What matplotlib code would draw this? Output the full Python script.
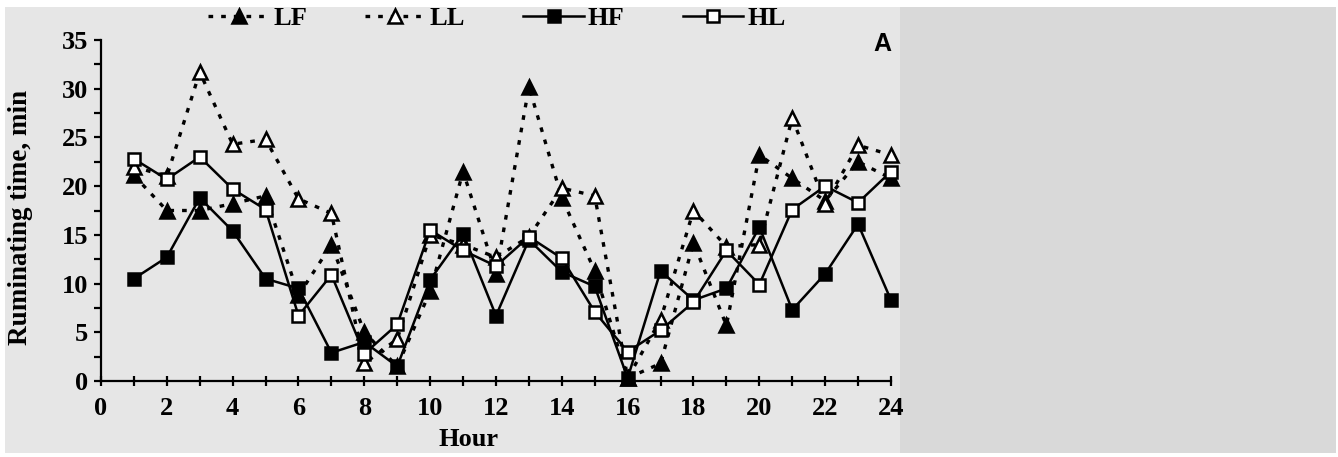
import matplotlib
matplotlib.use("Agg")
import matplotlib.pyplot as plt
from matplotlib.patches import Rectangle
from matplotlib.ticker import MultipleLocator

# Hours 1..24
hours = list(range(1, 25))

# Ruminating time (min) per hour
lf = [21.1, 17.5, 17.5, 18.2, 19.0, 8.8, 14.0, 5.0, 1.5, 9.2, 21.5, 11.0,
      30.2, 18.8, 11.3, 0.3, 1.8, 14.2, 5.7, 23.2, 20.8, 18.5, 22.5, 20.8]
ll = [22.0, 21.0, 31.7, 24.3, 24.8, 18.7, 17.2, 1.8, 4.3, 15.0, 14.0, 12.7,
      14.8, 19.8, 19.0, 0.3, 6.3, 17.5, 13.8, 14.0, 27.0, 18.2, 24.2, 23.2]
hf = [10.5, 12.7, 18.8, 15.4, 10.5, 9.5, 2.9, 4.0, 1.5, 10.4, 15.1, 6.7,
      14.5, 11.2, 9.7, 0.3, 11.3, 8.3, 9.5, 15.8, 7.3, 11.0, 16.1, 8.3]
hl = [22.8, 20.7, 23.0, 19.7, 17.6, 6.7, 10.9, 2.8, 5.8, 15.5, 13.4, 11.8,
      14.8, 12.6, 7.1, 3.0, 5.2, 8.1, 13.4, 9.9, 17.6, 20.0, 18.3, 21.5]

series_names = ["LF", "LL", "HF", "HL"]

serif = "Liberation Serif"

fig = plt.figure(figsize=(13.38, 4.57), dpi=100)
fig.patch.set_facecolor("white")

# background panels like the scanned page
fig.patches.append(Rectangle((5 / 1338, 4 / 457), 895 / 1338, 446 / 457,
                             transform=fig.transFigure, facecolor="#e6e6e6",
                             edgecolor="none", zorder=-10))
fig.patches.append(Rectangle((900 / 1338, 4 / 457), 436 / 1338, 446 / 457,
                             transform=fig.transFigure, facecolor="#d9d9d9",
                             edgecolor="none", zorder=-10))
# white strip at the very top (the scan cuts the legend there)
fig.patches.append(Rectangle((0, 1 - 7 / 457), 1, 7 / 457,
                             transform=fig.transFigure, facecolor="white",
                             edgecolor="none", zorder=20))

ax = fig.add_axes([101 / 1338, 1 - 381 / 457, 790 / 1338, 341 / 457])
ax.set_facecolor("none")

dots = (0, (1.4, 2.4))
common = dict(color="black", markersize=9.5, markeredgewidth=1.8, clip_on=False)

ax.plot(hours, lf, linestyle=dots, linewidth=2.4, marker="^",
        markerfacecolor="black", label=series_names[0], **common)
ax.plot(hours, ll, linestyle=dots, linewidth=2.4, marker="^",
        markerfacecolor="white", label=series_names[1], **common)
ax.plot(hours, hf, linestyle="-", linewidth=1.8, marker="s",
        markerfacecolor="black", markersize=8.5, markeredgewidth=1.8,
        color="black", clip_on=False, label=series_names[2])
ax.plot(hours, hl, linestyle="-", linewidth=1.8, marker="s",
        markerfacecolor="white", markersize=8.5, markeredgewidth=1.8,
        color="black", clip_on=False, label=series_names[3])

ax.set_xlim(0, 24)
ax.set_ylim(0, 35)
ax.xaxis.set_major_locator(MultipleLocator(2))
ax.xaxis.set_minor_locator(MultipleLocator(1))
ax.yaxis.set_major_locator(MultipleLocator(5))
ax.yaxis.set_minor_locator(MultipleLocator(2.5))

for s in ["top", "right"]:
    ax.spines[s].set_visible(False)
for s in ["left", "bottom"]:
    ax.spines[s].set_linewidth(1.6)

ax.tick_params(axis="x", which="both", direction="inout", length=7, width=1.6,
               pad=8)
ax.tick_params(axis="y", which="both", direction="out", length=5, width=1.6,
               pad=4)
for lbl in ax.get_xticklabels() + ax.get_yticklabels():
    lbl.set_fontfamily(serif)
    lbl.set_fontweight("bold")
    lbl.set_fontsize(19)

ax.set_xlabel("Hour", fontfamily=serif, fontweight="bold", fontsize=19)
ax.xaxis.set_label_coords(0.465, -0.138)
ax.set_ylabel("Ruminating time, min", fontfamily=serif, fontweight="bold",
              fontsize=19.5)
ax.yaxis.set_label_coords(-0.086, 0.48)

ax.text(23.75, 34.6, "A", fontfamily="Liberation Sans", fontweight="bold",
        fontsize=18, ha="center", va="center")

fig.legend(loc="center", bbox_to_anchor=(497 / 1338, 1 - 18 / 457), ncol=4,
           frameon=False, handlelength=2.3, handletextpad=0.15,
           columnspacing=2.2, borderaxespad=0,
           prop={"family": serif, "weight": "bold", "size": 19})

fig.savefig("out.png", dpi=100)
